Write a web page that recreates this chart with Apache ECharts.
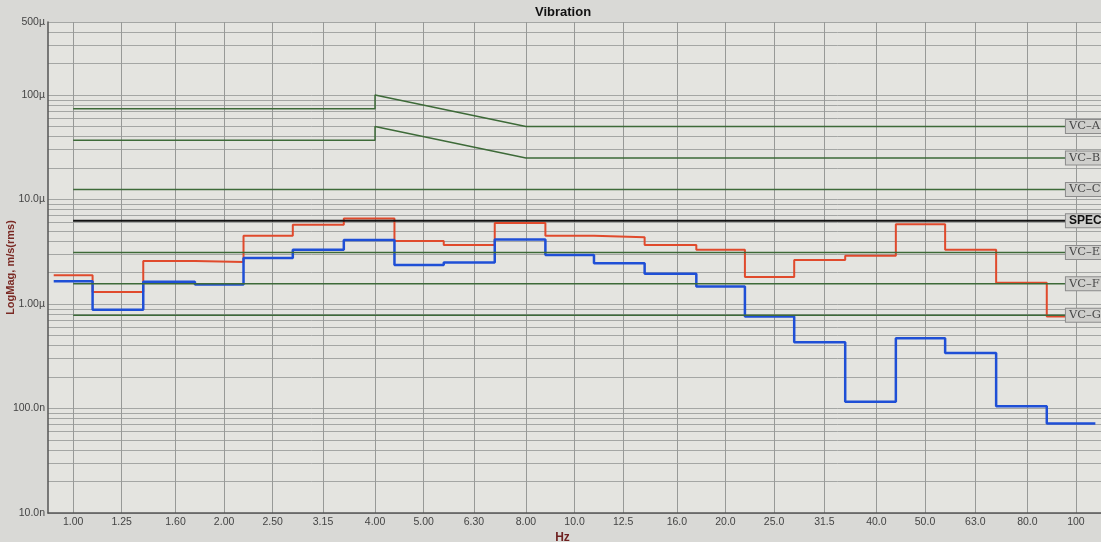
<!DOCTYPE html>
<html><head><meta charset="utf-8">
<script src="https://cdn.jsdelivr.net/npm/echarts@6/dist/echarts.min.js"></script>
<style>html,body{margin:0;padding:0;background:#d9d9d6}#c{width:1101px;height:542px}</style>
</head><body><div id="c"></div>
<script>
// ---- data ----
const bandFreqs  = [1, 1.25, 1.6, 2, 2.5, 3.15, 4, 5, 6.3, 8, 10, 12.5, 16, 20, 25, 31.5, 40, 50, 63, 80, 100];
const bandLabels = ['1.00','1.25','1.60','2.00','2.50','3.15','4.00','5.00','6.30','8.00','10.0','12.5','16.0','20.0','25.0','31.5','40.0','50.0','63.0','80.0','100'];
// µm/s (rms)
const redValues  = [1.88, 1.30, 2.58, 2.53, 4.5, 5.75, 6.6, 4.02, 3.68, 5.95, 4.5, 4.35, 3.68, 3.3, 1.81, 2.64, 2.9, 5.8, 3.3, 1.6, 0.76];
const blueValues = [1.65, 0.88, 1.63, 1.54, 2.75, 3.3, 4.1, 2.36, 2.5, 4.15, 2.95, 2.45, 1.95, 1.47, 0.76, 0.43, 0.116, 0.47, 0.34, 0.105, 0.072];
const vcAFreqs = [1, 4, 4, 8, 100];
const vcAValues = [74, 74, 100, 50, 50];
const vcBFreqs = [1, 4, 4, 8, 100];
const vcBValues = [37, 37, 50, 25, 25];
const flatNames  = ['VC\u2013C', 'SPEC', 'VC\u2013E', 'VC\u2013F', 'VC\u2013G'];
const flatValues = [12.5, 6.25, 3.12, 1.56, 0.78];
const flatRange  = [1, 100];
const yTickValues = [0.01, 0.1, 1, 10, 100, 500];
const yTickLabels = ['10.0n', '100.0n', '1.00\u00b5', '10.0\u00b5', '100\u00b5', '500\u00b5'];

// ---- build ----
const STEP_FRAC = 0.4;
function stepPoints(vals) {
  const pts = [];
  const n = bandFreqs.length;
  for (let i = 0; i < n; i++) {
    let lo;
    if (i === 0) lo = bandFreqs[0] * Math.pow(bandFreqs[0] / bandFreqs[1], STEP_FRAC);
    else lo = bandFreqs[i - 1] * Math.pow(bandFreqs[i] / bandFreqs[i - 1], STEP_FRAC);
    pts.push([lo, vals[i]]);
  }
  const hi = bandFreqs[n - 1] * Math.pow(bandFreqs[n - 1] / bandFreqs[n - 2], STEP_FRAC);
  pts.push([hi, vals[n - 1]]);
  return pts;
}
function zip(a, b) { return a.map((v, i) => [v, b[i]]); }

const minorY = [];
[0.01, 0.1, 1, 10, 100].forEach(d => { for (let k = 1; k <= 9; k++) { const v = d * k; if (v <= 500) minorY.push(+v.toPrecision(6)); } });
minorY.push(500);

const green = '#3d6a38';
function labelBox(bold) {
  return {
    show: true, formatter: '{a}', distance: 0, offset: [-10, 0],
    backgroundColor: '#cfcfcc', borderColor: '#8c8c8c', borderWidth: 1,
    padding: [1, 3, 0, 3], color: bold ? '#111' : '#4a4a4a',
    fontFamily: bold ? 'Liberation Sans' : 'DejaVu Serif',
    fontWeight: bold ? 'bold' : 'normal', fontSize: bold ? 12 : 11.5
  };
}
const series = [];
series.push({ name: 'Red', type: 'line', step: 'end', data: stepPoints(redValues), showSymbol: false,
  lineStyle: { color: '#e04a2c', width: 2 }, itemStyle: { color: '#e04a2c' }, silent: true });
series.push({ name: 'Blue', type: 'line', step: 'end', data: stepPoints(blueValues), showSymbol: false,
  lineStyle: { color: '#1f4fd6', width: 2.5 }, itemStyle: { color: '#1f4fd6' }, silent: true });
series.push({ name: 'VC\u2013A', type: 'line', data: zip(vcAFreqs, vcAValues), showSymbol: false,
  lineStyle: { color: green, width: 1.5 }, endLabel: labelBox(false), silent: true });
series.push({ name: 'VC\u2013B', type: 'line', data: zip(vcBFreqs, vcBValues), showSymbol: false,
  lineStyle: { color: green, width: 1.5 }, endLabel: labelBox(false), silent: true });
flatNames.forEach((nm, i) => {
  const isSpec = nm === 'SPEC';
  series.push({ name: nm, type: 'line', data: flatRange.map(f => [f, flatValues[i]]), showSymbol: false,
    lineStyle: { color: isSpec ? '#111' : green, width: isSpec ? 2 : 1.5 }, endLabel: labelBox(isSpec), silent: true });
});

const chart = echarts.init(document.getElementById('c'));
chart.setOption({
  animation: false,
  backgroundColor: '#d9d9d6',
  title: { text: 'Vibration', left: 530, top: 1, textStyle: { fontFamily: 'Liberation Sans', fontSize: 13, fontWeight: 'bold', color: '#111' } },
  grid: { left: 48, right: 0, top: 22, bottom: 29, containLabel: false, outerBoundsMode: 'none',
    show: true, backgroundColor: '#e4e4e0', borderWidth: 0 },
  xAxis: {
    type: 'log', min: bandFreqs[0] * Math.pow(2, -1 / 6), max: 112.2,
    name: 'Hz', nameLocation: 'middle', nameGap: 19, nameMoveOverlap: false,
    nameTextStyle: { fontFamily: 'Liberation Sans', fontWeight: 'bold', fontSize: 12, color: '#6e1f1f', padding: [0, 24, 0, 0] },
    axisLine: { show: true, lineStyle: { color: '#555', width: 1.5 } },
    axisTick: { show: false, customValues: bandFreqs },
    axisLabel: { customValues: bandFreqs, margin: 4, fontFamily: 'Liberation Sans', fontSize: 10.5, color: '#444',
      formatter: v => { const i = bandFreqs.findIndex(f => Math.abs(f - v) / f < 1e-6); return i >= 0 ? bandLabels[i] : ''; } },
    splitLine: { show: true, lineStyle: { color: '#979997', width: 1 } },
    minorSplitLine: { show: false }
  },
  yAxis: {
    type: 'log', min: 0.01, max: 500,
    name: 'LogMag, m/s(rms)', nameLocation: 'middle', nameGap: 32, nameRotate: 90, nameMoveOverlap: false,
    nameTextStyle: { fontFamily: 'Liberation Sans', fontWeight: 'bold', fontSize: 11, color: '#7a2a24' },
    axisLine: { show: true, lineStyle: { color: '#555', width: 1.5 } },
    axisTick: { show: false, customValues: minorY },
    axisLabel: { customValues: yTickValues, margin: 3, fontFamily: 'Liberation Sans', fontSize: 10.5, color: '#444',
      formatter: v => { const i = yTickValues.findIndex(t => Math.abs(t - v) / t < 1e-6); return i >= 0 ? yTickLabels[i] : ''; } },
    splitLine: { show: true, lineStyle: { color: '#a4a6a4', width: 1 } }
  },
  series: series
});
</script></body></html>
